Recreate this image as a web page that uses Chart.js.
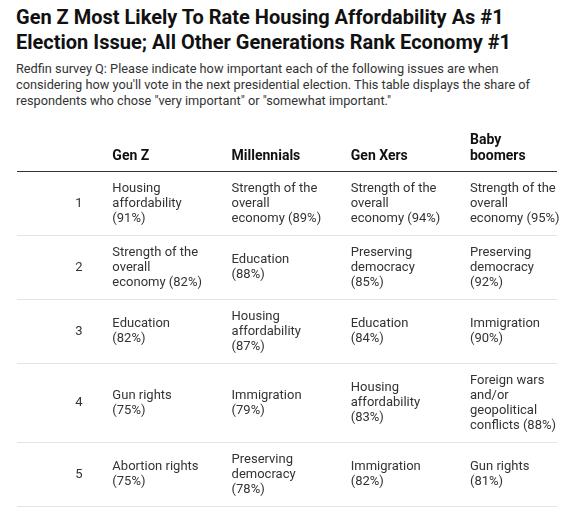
<!DOCTYPE html>
<html>
<head>
<meta charset="utf-8">
<script src="https://cdn.jsdelivr.net/npm/chart.js@4"></script>
<style>
  body { margin: 0; background: #fff; font-family: Roboto, sans-serif; }
  #wrap { position: relative; width: 582px; height: 513px; overflow: hidden; }
  h1 { position: absolute; left: 16px; top: 5px; margin: 0; font: bold 20px/25px Roboto, sans-serif; color: #111; }
  .sub { position: absolute; left: 16px; top: 61px; margin: 0; white-space: nowrap; font: 12.75px/16px Roboto, sans-serif; color: #333; }
  #table { position: absolute; left: 0; top: 120px; }
</style>
</head>
<body>
<div id="wrap">
  <h1>Gen Z Most Likely To Rate Housing Affordability As #1<br>Election Issue; All Other Generations Rank Economy #1</h1>
  <p class="sub">Redfin survey Q: Please indicate how important each of the following issues are when<br>considering how you'll vote in the next presidential election. This table displays the share of<br>respondents who chose "very important" or "somewhat important."</p>
  <canvas id="table" width="582" height="393"></canvas>
</div>
<script>
// ─── DATA ─────────────────────────────────────────────────────
const generations = ['Gen Z', 'Millennials', 'Gen Xers', 'Baby boomers'];
const ranks = [1, 2, 3, 4, 5];

const genZIssues       = ['Housing affordability', 'Strength of the overall economy', 'Education', 'Gun rights', 'Abortion rights'];
const genZShares       = [91, 82, 82, 75, 75];
const millennialIssues = ['Strength of the overall economy', 'Education', 'Housing affordability', 'Immigration', 'Preserving democracy'];
const millennialShares = [89, 88, 87, 79, 78];
const genXIssues       = ['Strength of the overall economy', 'Preserving democracy', 'Education', 'Housing affordability', 'Immigration'];
const genXShares       = [94, 85, 84, 83, 82];
const boomerIssues     = ['Strength of the overall economy', 'Preserving democracy', 'Immigration', 'Foreign wars and/or geopolitical conflicts', 'Gun rights'];
const boomerShares     = [95, 92, 90, 88, 81];

const issues = [genZIssues, millennialIssues, genXIssues, boomerIssues];
const shares = [genZShares, millennialShares, genXShares, boomerShares];

// ─── STYLE ────────────────────────────────────────────────────
const CELL_FONT = '13px Roboto, sans-serif';
const HEAD_FONT = 'bold 14px Roboto, sans-serif';
const WRAP_W = 90;
const LINE_H = 15;
const ROW_PAD = 19;

// ─── WRAPPING ─────────────────────────────────────────────────
const measureCtx = document.createElement('canvas').getContext('2d');
function wrap(text, font) {
    measureCtx.font = font;
    const words = text.split(' ');
    const lines = [];
    let cur = '';
    words.forEach(w => {
        const test = cur ? cur + ' ' + w : w;
        if (cur && measureCtx.measureText(test).width > WRAP_W) {
            lines.push(cur);
            cur = w;
        } else {
            cur = test;
        }
    });
    lines.push(cur);
    return lines;
}

// cell lines per rank / generation
const cellLines = ranks.map((r, ri) =>
    generations.map((g, gi) => wrap(`${issues[gi][ri]} (${shares[gi][ri]}%)`, CELL_FONT)));

// row boundaries on the y scale (one unit = one pixel of row height)
const bounds = [0];
cellLines.forEach(row => {
    const n = Math.max(...row.map(l => l.length));
    bounds.push(bounds[bounds.length - 1] + n * LINE_H + ROW_PAD);
});
const rowCenters = ranks.map((r, i) => (bounds[i] + bounds[i + 1]) / 2);

const cellPoints = [];
ranks.forEach((r, ri) => generations.forEach((g, gi) =>
    cellPoints.push({ x: gi, y: rowCenters[ri], lines: cellLines[ri][gi] })));
const rankPoints  = ranks.map((r, ri) => ({ x: -0.28, y: rowCenters[ri], lines: [String(r)] }));
const headPoints  = generations.map((g, gi) => ({ x: gi, y: 0, lines: wrap(g, HEAD_FONT) }));

// ─── TABLE PLUGIN ─────────────────────────────────────────────
const tablePlugin = {
    id: 'tableText',
    afterDatasetsDraw(chart) {
        const { ctx, chartArea, scales: { y } } = chart;
        ctx.save();

        // separators
        bounds.forEach((b, i) => {
            const py = Math.round(y.getPixelForValue(b)) + 0.5;
            ctx.strokeStyle = i === 0 ? '#333' : '#e4e4e4';
            ctx.lineWidth = 1;
            ctx.beginPath();
            ctx.moveTo(chartArea.left, py);
            ctx.lineTo(chartArea.right, py);
            ctx.stroke();
        });

        ctx.textBaseline = 'middle';
        chart.data.datasets.forEach((ds, di) => {
            const meta = chart.getDatasetMeta(di);
            meta.data.forEach((el, i) => {
                const lines = ds.data[i].lines;
                if (ds.kind === 'head') {
                    ctx.font = HEAD_FONT;
                    ctx.fillStyle = '#111';
                    ctx.textAlign = 'left';
                    lines.forEach((t, li) =>
                        ctx.fillText(t, el.x, el.y - 15 - (lines.length - 1 - li) * 16));
                } else {
                    ctx.font = CELL_FONT;
                    ctx.fillStyle = '#333';
                    ctx.textAlign = ds.kind === 'rank' ? 'center' : 'left';
                    lines.forEach((t, li) =>
                        ctx.fillText(t, el.x, el.y + (li - (lines.length - 1) / 2) * LINE_H + 0.5));
                }
            });
        });
        ctx.restore();
    }
};

// ─── CHART ────────────────────────────────────────────────────
new Chart(document.getElementById('table'), {
    type: 'scatter',
    data: {
        datasets: [
            { kind: 'head', data: headPoints, pointRadius: 0 },
            { kind: 'rank', data: rankPoints, pointRadius: 0 },
            { kind: 'cell', data: cellPoints, pointRadius: 0 }
        ]
    },
    options: {
        responsive: false,
        animation: false,
        devicePixelRatio: 1,
        layout: { padding: { left: 17, right: 25, top: 51, bottom: 393 - 51 - bounds[bounds.length - 1] } },
        plugins: { legend: { display: false }, tooltip: { enabled: false } },
        scales: {
            x: { type: 'linear', min: -0.8, max: 3.73, display: false },
            y: { type: 'linear', min: 0, max: bounds[bounds.length - 1], reverse: true, display: false }
        }
    },
    plugins: [tablePlugin]
});
</script>
</body>
</html>
